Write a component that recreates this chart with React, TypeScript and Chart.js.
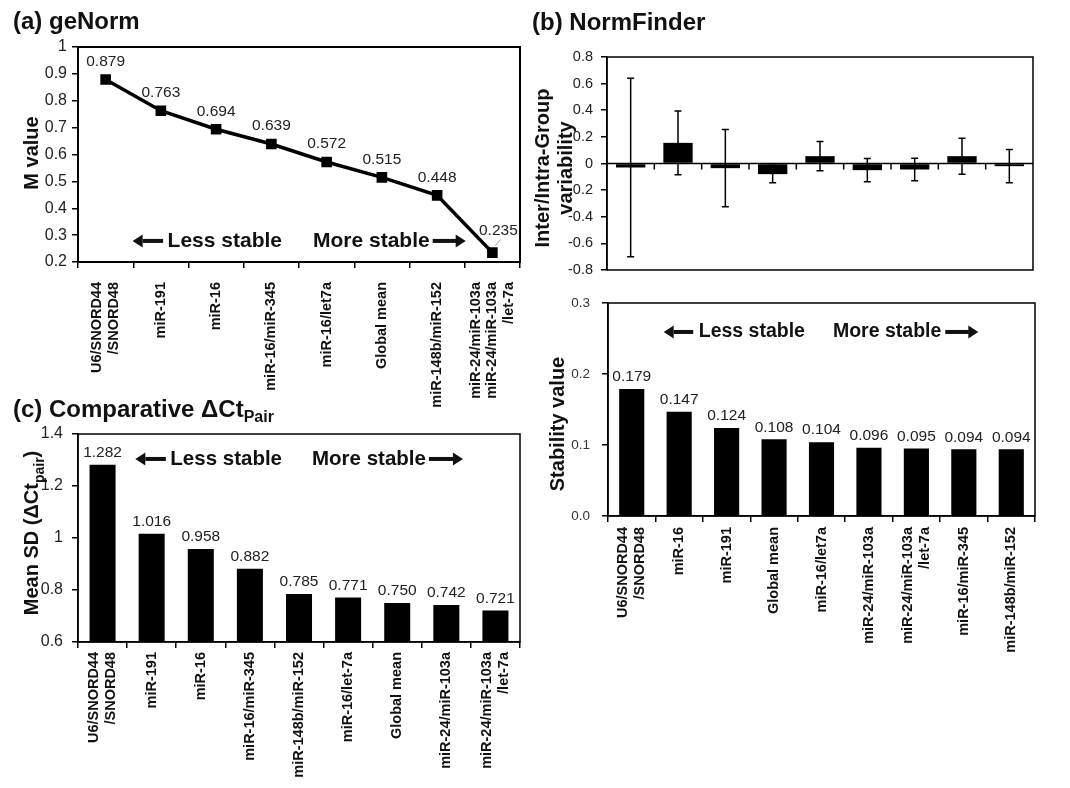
import React, { useEffect, useRef } from "react";
import { Chart, registerables } from "chart.js";

Chart.register(...registerables);

const FONT = '"Liberation Sans", Arial, Helvetica, sans-serif';

// ---------------- data ----------------
// (a) geNorm
const genormCategories: (string | string[])[] = [
  ["U6/SNORD44", "/SNORD48"],
  "miR-191",
  "miR-16",
  "miR-16/miR-345",
  "miR-16/let7a",
  "Global mean",
  "miR-148b/miR-152",
  ["miR-24/miR-103a", "miR-24/miR-103a", "/let-7a"],
];
const genormMValues = [0.879, 0.763, 0.694, 0.639, 0.572, 0.515, 0.448, 0.235];
const genormYAxis = { min: 0.2, max: 1, step: 0.1 };

// (b) NormFinder
const normfinderCategories: (string | string[])[] = [
  ["U6/SNORD44", "/SNORD48"],
  "miR-16",
  "miR-191",
  "Global mean",
  "miR-16/let7a",
  "miR-24/miR-103a",
  ["miR-24/miR-103a", "/let-7a"],
  "miR-16/miR-345",
  "miR-148b/miR-152",
];
const normfinderInterIntra = [-0.03, 0.155, -0.035, -0.08, 0.055, -0.05, -0.045, 0.055, -0.02];
const normfinderInterIntraErr = [0.67, 0.24, 0.29, 0.065, 0.11, 0.087, 0.085, 0.135, 0.125];
const normfinderVarAxis = { min: -0.8, max: 0.8, step: 0.2 };
const normfinderStability = [0.179, 0.147, 0.124, 0.108, 0.104, 0.096, 0.095, 0.094, 0.094];
const normfinderStabAxis = { min: 0, max: 0.3, step: 0.1 };

// (c) Comparative dCt
const deltaCtCategories: (string | string[])[] = [
  ["U6/SNORD44", "/SNORD48"],
  "miR-191",
  "miR-16",
  "miR-16/miR-345",
  "miR-148b/miR-152",
  "miR-16/let-7a",
  "Global mean",
  "miR-24/miR-103a",
  ["miR-24/miR-103a", "/let-7a"],
];
const deltaCtMeanSD = [1.282, 1.016, 0.958, 0.882, 0.785, 0.771, 0.75, 0.742, 0.721];
const deltaCtYAxis = { min: 0.6, max: 1.4, step: 0.2 };

// ---------------- plugins ----------------
type Seg = { text: string; sub?: boolean };

const trimFmt = (v: number) => String(Number(v.toFixed(2)));
const oneDecFmt = (v: number) => v.toFixed(1);

function zeroPad(s: any) {
  s.paddingLeft = 0;
  s.paddingRight = 0;
  s.paddingTop = 0;
  s.paddingBottom = 0;
}

function boxPlugin(lw: number) {
  return {
    id: "box",
    afterDraw(chart: any) {
      const { ctx, chartArea: a } = chart;
      ctx.save();
      ctx.strokeStyle = "#000";
      ctx.lineWidth = lw;
      ctx.strokeRect(a.left, a.top, a.right - a.left, a.bottom - a.top);
      ctx.restore();
    },
  };
}

function xLabelPlugin(labels: (string | string[])[], gap: number, size: number, lineHeight: number) {
  return {
    id: "xlabels",
    afterDraw(chart: any) {
      const { ctx, chartArea } = chart;
      const xs = chart.scales.x;
      ctx.save();
      ctx.font = `bold ${size}px ${FONT}`;
      ctx.fillStyle = "#111";
      ctx.textAlign = "right";
      ctx.textBaseline = "middle";
      labels.forEach((lab, i) => {
        const lines = Array.isArray(lab) ? lab : [lab];
        const x = xs.getPixelForValue(i);
        ctx.save();
        ctx.translate(x, chartArea.bottom + gap);
        ctx.rotate(-Math.PI / 2);
        lines.forEach((ln, j) => ctx.fillText(ln, 0, (j - (lines.length - 1) / 2) * lineHeight));
        ctx.restore();
      });
      ctx.restore();
    },
  };
}

function valueLabelPlugin(
  values: number[],
  offset: number,
  special?: { index: number; dx: number; dy: number }
) {
  return {
    id: "vlabels",
    afterDatasetsDraw(chart: any) {
      const { ctx } = chart;
      const meta = chart.getDatasetMeta(0);
      ctx.save();
      ctx.font = `15.5px ${FONT}`;
      ctx.fillStyle = "#222";
      ctx.textAlign = "center";
      ctx.textBaseline = "middle";
      values.forEach((v, i) => {
        const el = meta.data[i];
        if (!el) return;
        if (special && special.index === i) {
          ctx.fillText(v.toFixed(3), el.x + special.dx, el.y + special.dy);
          ctx.save();
          ctx.strokeStyle = "#999";
          ctx.lineWidth = 1;
          ctx.beginPath();
          ctx.moveTo(el.x + 3, el.y - 7);
          ctx.lineTo(el.x + 8, el.y - 13);
          ctx.stroke();
          ctx.restore();
        } else {
          ctx.fillText(v.toFixed(3), el.x, el.y - offset);
        }
      });
      ctx.restore();
    },
  };
}

function errorBarPlugin(values: number[], errs: number[]) {
  return {
    id: "errbars",
    afterDatasetsDraw(chart: any) {
      const { ctx } = chart;
      const ys = chart.scales.y;
      const meta = chart.getDatasetMeta(0);
      ctx.save();
      ctx.strokeStyle = "#000";
      ctx.lineWidth = 1.5;
      values.forEach((v, i) => {
        const el = meta.data[i];
        if (!el) return;
        const yHi = ys.getPixelForValue(v + errs[i]);
        const yLo = ys.getPixelForValue(v - errs[i]);
        const x = el.x;
        ctx.beginPath();
        ctx.moveTo(x, yHi);
        ctx.lineTo(x, yLo);
        ctx.moveTo(x - 3.5, yHi);
        ctx.lineTo(x + 3.5, yHi);
        ctx.moveTo(x - 3.5, yLo);
        ctx.lineTo(x + 3.5, yLo);
        ctx.stroke();
      });
      ctx.restore();
    },
  };
}

function zeroLinePlugin(count: number) {
  return {
    id: "zeroline",
    afterDatasetsDraw(chart: any) {
      const { ctx, chartArea: a } = chart;
      const y0 = chart.scales.y.getPixelForValue(0);
      const xs = chart.scales.x;
      ctx.save();
      ctx.strokeStyle = "#000";
      ctx.lineWidth = 1.5;
      ctx.beginPath();
      ctx.moveTo(a.left, y0);
      ctx.lineTo(a.right, y0);
      for (let i = 1; i < count; i++) {
        const x = (xs.getPixelForValue(i - 1) + xs.getPixelForValue(i)) / 2;
        ctx.moveTo(x, y0);
        ctx.lineTo(x, y0 + 6);
      }
      ctx.stroke();
      ctx.restore();
    },
  };
}

function drawArrow(ctx: CanvasRenderingContext2D, x0: number, x1: number, y: number) {
  const dir = Math.sign(x1 - x0);
  const head = 10;
  const half = 6.5;
  const shaft = 4;
  const xs = x1 - dir * head;
  ctx.fillRect(Math.min(x0, xs), y - shaft / 2, Math.abs(xs - x0) + 0.5, shaft);
  ctx.beginPath();
  ctx.moveTo(x1, y);
  ctx.lineTo(xs, y - half);
  ctx.lineTo(xs, y + half);
  ctx.closePath();
  ctx.fill();
}

function stabilityNotePlugin(o: {
  fx: number;
  fy: number;
  size: number;
  gap: number;
  gapL: number;
  gapR: number;
  lenL: number;
  lenR: number;
}) {
  return {
    id: "note",
    afterDraw(chart: any) {
      const { ctx, chartArea: a } = chart;
      const cx = a.left + o.fx * (a.right - a.left);
      const cy = a.top + o.fy * (a.bottom - a.top);
      ctx.save();
      ctx.font = `bold ${o.size}px ${FONT}`;
      ctx.fillStyle = "#111";
      ctx.textBaseline = "middle";
      ctx.textAlign = "left";
      const lw = ctx.measureText("Less stable").width;
      const mw = ctx.measureText("More stable").width;
      const lx = cx - o.gap / 2 - lw;
      const mx = cx + o.gap / 2;
      ctx.fillText("Less stable", lx, cy);
      ctx.fillText("More stable", mx, cy);
      drawArrow(ctx, lx - o.gapL, lx - o.gapL - o.lenL, cy);
      drawArrow(ctx, mx + mw + o.gapR, mx + mw + o.gapR + o.lenR, cy);
      ctx.restore();
    },
  };
}

function yTitlePlugin(lines: Seg[][], cx: number, cy: number, size: number, lineGap: number) {
  return {
    id: "ytitle",
    afterDraw(chart: any) {
      const { ctx } = chart;
      const fontFor = (s: Seg) => `bold ${s.sub ? Math.round(size * 0.7) : size}px ${FONT}`;
      ctx.save();
      ctx.translate(cx, cy);
      ctx.rotate(-Math.PI / 2);
      ctx.fillStyle = "#111";
      ctx.textBaseline = "alphabetic";
      ctx.textAlign = "left";
      lines.forEach((segs, j) => {
        const base = (j - (lines.length - 1) / 2) * lineGap + size * 0.36;
        let total = 0;
        segs.forEach((s) => {
          ctx.font = fontFor(s);
          total += ctx.measureText(s.text).width;
        });
        let x = -total / 2;
        segs.forEach((s) => {
          ctx.font = fontFor(s);
          ctx.fillText(s.text, x, base + (s.sub ? size * 0.28 : 0));
          x += ctx.measureText(s.text).width;
        });
      });
      ctx.restore();
    },
  };
}

function yScale(
  range: { min: number; max: number; step: number },
  width: number,
  size: number,
  color: string,
  padding: number,
  fmt: (v: number) => string
) {
  return {
    min: range.min,
    max: range.max,
    ticks: {
      stepSize: range.step,
      font: { family: FONT, size },
      color,
      padding,
      callback: (v: any) => fmt(Number(v)),
    },
    grid: { drawOnChartArea: false, drawTicks: true, tickLength: 6, color: "#000", lineWidth: 1.5 },
    border: { display: true, color: "#000", width: 1.5 },
    afterFit: (s: any) => {
      s.width = width;
      zeroPad(s);
    },
  };
}

function xScale(height: number) {
  return {
    offset: true,
    grid: { offset: true, drawOnChartArea: false, drawTicks: true, tickLength: 6, color: "#000", lineWidth: 1.5 },
    border: { display: true, color: "#000", width: 1.5 },
    ticks: { display: false, autoSkip: false },
    afterFit: (s: any) => {
      s.height = height;
      zeroPad(s);
    },
  };
}

const baseOptions = {
  animation: false,
  responsive: false,
  maintainAspectRatio: false,
  events: [],
};

const flatLabels = (cats: (string | string[])[]) =>
  cats.map((c) => (Array.isArray(c) ? c.join(" ") : c));

// ---------------- chart configs ----------------
function makeGenorm(): any {
  return {
    type: "line",
    data: {
      labels: flatLabels(genormCategories),
      datasets: [
        {
          data: genormMValues,
          borderColor: "#000",
          borderWidth: 3.5,
          pointStyle: "rect",
          pointRadius: 7.5,
          pointBackgroundColor: "#000",
          pointBorderColor: "#000",
          pointBorderWidth: 0,
          tension: 0,
        },
      ],
    },
    options: {
      ...baseOptions,
      layout: { padding: { top: 47, right: 15, left: 0, bottom: 0 } },
      plugins: { legend: { display: false }, tooltip: { enabled: false } },
      scales: {
        x: xScale(168),
        y: yScale(genormYAxis, 78, 16, "#222", 5, trimFmt),
      },
    },
    plugins: [
      boxPlugin(2),
      xLabelPlugin(genormCategories, 20, 14.5, 16.5),
      valueLabelPlugin(genormMValues, 18, { index: 7, dx: 6, dy: -22 }),
      stabilityNotePlugin({ fx: 0.4966, fy: 0.902, size: 21, gap: 31, gapL: 5, gapR: 3, lenL: 30, lenR: 33 }),
      yTitlePlugin([[{ text: "M value" }]], 31, 153, 20, 23),
    ],
  };
}

function makeNormVar(): any {
  return {
    type: "bar",
    data: {
      labels: flatLabels(normfinderCategories),
      datasets: [
        {
          data: normfinderInterIntra,
          backgroundColor: "#000",
          barPercentage: 0.62,
          categoryPercentage: 1,
        },
      ],
    },
    options: {
      ...baseOptions,
      layout: { padding: { top: 57, right: 37, left: 0, bottom: 20 } },
      plugins: { legend: { display: false }, tooltip: { enabled: false } },
      scales: {
        x: { display: false, offset: true },
        y: yScale(normfinderVarAxis, 87, 14.5, "#222", 8, trimFmt),
      },
    },
    plugins: [
      boxPlugin(1.5),
      zeroLinePlugin(normfinderCategories.length),
      errorBarPlugin(normfinderInterIntra, normfinderInterIntraErr),
      yTitlePlugin([[{ text: "Inter/Intra-Group" }], [{ text: "variability" }]], 33.5, 168, 20, 23),
    ],
  };
}

function makeNormStab(): any {
  return {
    type: "bar",
    data: {
      labels: flatLabels(normfinderCategories),
      datasets: [
        {
          data: normfinderStability,
          backgroundColor: "#000",
          barPercentage: 0.53,
          categoryPercentage: 1,
        },
      ],
    },
    options: {
      ...baseOptions,
      layout: { padding: { top: 13, right: 35, left: 0, bottom: 0 } },
      plugins: { legend: { display: false }, tooltip: { enabled: false } },
      scales: {
        x: xScale(272),
        y: yScale(normfinderStabAxis, 88, 13.5, "#333", 12, oneDecFmt),
      },
    },
    plugins: [
      boxPlugin(1.5),
      xLabelPlugin(normfinderCategories, 11, 14.5, 16.5),
      valueLabelPlugin(normfinderStability, 12),
      stabilityNotePlugin({ fx: 0.494, fy: 0.136, size: 19.5, gap: 28, gapL: 6, gapR: 4, lenL: 29, lenR: 33 }),
      yTitlePlugin([[{ text: "Stability value" }]], 37, 134, 20, 23),
    ],
  };
}

function makeDeltaCt(): any {
  return {
    type: "bar",
    data: {
      labels: flatLabels(deltaCtCategories),
      datasets: [
        {
          data: deltaCtMeanSD,
          backgroundColor: "#000",
          barPercentage: 0.53,
          categoryPercentage: 1,
        },
      ],
    },
    options: {
      ...baseOptions,
      layout: { padding: { top: 14, right: 15, left: 0, bottom: 0 } },
      plugins: { legend: { display: false }, tooltip: { enabled: false } },
      scales: {
        x: xScale(146),
        y: yScale(deltaCtYAxis, 78, 16, "#222", 9, trimFmt),
      },
    },
    plugins: [
      boxPlugin(1.5),
      xLabelPlugin(deltaCtCategories, 10, 14.5, 16.5),
      valueLabelPlugin(deltaCtMeanSD, 12),
      stabilityNotePlugin({ fx: 0.4955, fy: 0.12, size: 20.5, gap: 30, gapL: 5, gapR: 3, lenL: 30, lenR: 34 }),
      yTitlePlugin(
        [[{ text: "Mean SD (ΔCt" }, { text: "pair", sub: true }, { text: ")" }]],
        31,
        113,
        20,
        23
      ),
    ],
  };
}

// ---------------- components ----------------
function ChartCanvas(props: { left: number; top: number; width: number; height: number; make: () => any }) {
  const ref = useRef<HTMLCanvasElement>(null);
  useEffect(() => {
    const chart = new Chart(ref.current as HTMLCanvasElement, props.make());
    return () => chart.destroy();
  }, []);
  return (
    <canvas
      ref={ref}
      width={props.width}
      height={props.height}
      style={{ position: "absolute", left: props.left, top: props.top, width: props.width, height: props.height }}
    />
  );
}

const titleStyle = (left: number, top: number): React.CSSProperties => ({
  position: "absolute",
  left,
  top,
  fontFamily: FONT,
  fontWeight: "bold",
  fontSize: 24,
  lineHeight: "24px",
  whiteSpace: "nowrap",
  color: "#111",
});

export default function App() {
  return (
    <div
      style={{
        position: "absolute",
        left: 0,
        top: 0,
        width: 1070,
        height: 788,
        background: "#fff",
        overflow: "hidden",
      }}
    >
      <ChartCanvas left={0} top={0} width={535} height={430} make={makeGenorm} />
      <ChartCanvas left={0} top={420} width={535} height={368} make={makeDeltaCt} />
      <ChartCanvas left={520} top={0} width={550} height={290} make={makeNormVar} />
      <ChartCanvas left={520} top={290} width={550} height={498} make={makeNormStab} />
      <div style={titleStyle(13, 9)}>(a) geNorm</div>
      <div style={titleStyle(532, 10)}>(b) NormFinder</div>
      <div style={titleStyle(13, 397)}>
        (c) Comparative ΔCt
        <span style={{ fontSize: 16, verticalAlign: "-5px" }}>Pair</span>
      </div>
    </div>
  );
}
